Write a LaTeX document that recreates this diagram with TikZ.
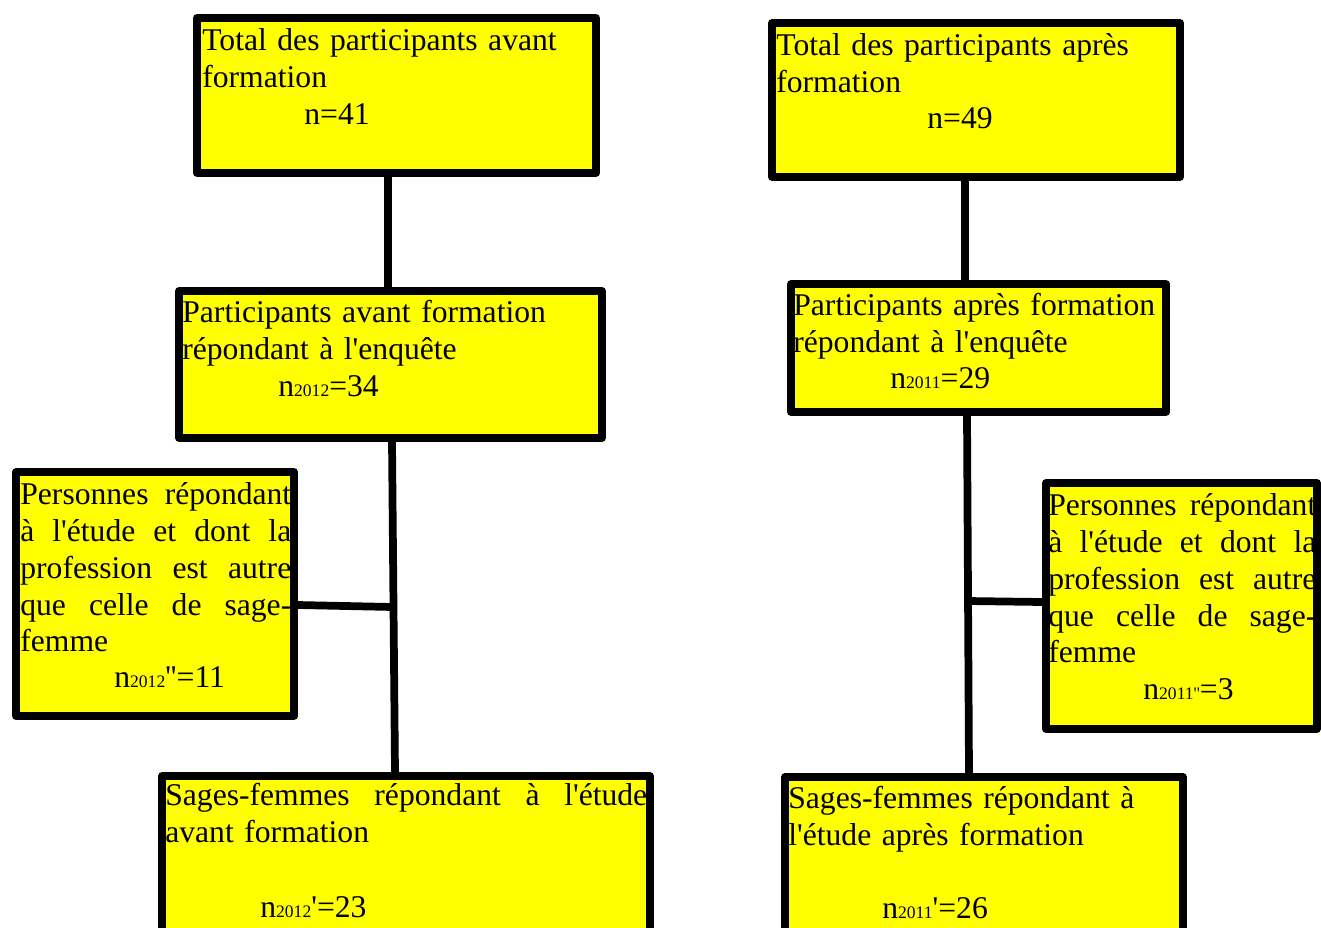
\documentclass[tikz,border=0pt]{standalone}
\usepackage{fontspec}
\setmainfont{Liberation Serif}[Ligatures=TeXOff]
\usetikzlibrary{shapes,arrows}
\definecolor{jaune}{RGB}{255,255,0}
\tikzstyle{block} = [draw, rectangle, fill=jaune, line width=4.4pt, line join=round, inner sep=0pt]
\tikzstyle{line} = [draw, line width=4.4pt]
\tikzstyle{boxtext} = [inner sep=0pt, anchor=north west, align=left, font=\fontsize{18}{21}\selectfont]
\tikzstyle{boxcount} = [inner sep=0pt, anchor=base west, font=\fontsize{18}{21}\selectfont]
\newcommand{\yr}[1]{{\fontsize{10}{10}\selectfont #1}}

\begin{document}
\begin{tikzpicture}[x=0.02cm, y=-0.02cm]
    \useasboundingbox (0,0) rectangle (1321,927);

    % Place nodes
    \node [block, minimum width=7.98cm, minimum height=3.1cm] (total-avant) at (396.5,95.5) {};
    \node [block, minimum width=8.46cm, minimum height=2.94cm] (repondants-avant) at (390.5,364.5) {};
    \node [block, minimum width=5.56cm, minimum height=4.88cm] (autres-avant) at (155,594) {};
    \node [block, minimum width=9.76cm, minimum height=3.68cm] (sf-avant) at (406,868) {};
    \node [block, minimum width=8.16cm, minimum height=3.08cm] (total-apres) at (976,100) {};
    \node [block, minimum width=7.5cm, minimum height=2.56cm] (repondants-apres) at (978.5,348) {};
    \node [block, minimum width=5.42cm, minimum height=4.92cm] (autres-apres) at (1181.5,606) {};
    \node [block, minimum width=7.96cm, minimum height=3.66cm] (sf-apres) at (984,868.5) {};

    % Texts
    \node [boxtext, text width=7.8cm] (total-avant-txt) at (202,24.2) {\strut Total des participants avant\\formation};
    \node [boxcount] (total-avant-n) at (304,124) {n=41};
    \node [boxtext, text width=8.2cm] (repondants-avant-txt) at (182,296.2) {\strut Participants avant formation\\répondant à l'enquête};
    \node [boxcount] (repondants-avant-n) at (278,396) {n\yr{2012}=34};
    \node [boxtext, text width=5.42cm] (autres-avant-txt) at (20,478.2) {\strut Personnes\hfill répondant\\à\hfill l'étude\hfill et\hfill dont\hfill la\\profession\hfill est\hfill autre\\que\hfill celle\hfill de\hfill sage-\\femme};
    \node [boxcount] (autres-avant-n) at (114,687) {n\yr{2012}''=11};
    \node [boxtext, text width=9.64cm] (sf-avant-txt) at (165,779.2) {\strut Sages-femmes\hfill répondant\hfill à\hfill l'étude\\avant formation};
    \node [boxcount] (sf-avant-n) at (260,917) {n\yr{2012}'=23};
    \node [boxtext, text width=7.9cm] (total-apres-txt) at (776,29.2) {\strut Total des participants après\\formation};
    \node [boxcount] (total-apres-n) at (927,128) {n=49};
    \node [boxtext, text width=7.4cm] (repondants-apres-txt) at (793,289.2) {\strut Participants après formation\\répondant à l'enquête};
    \node [boxcount] (repondants-apres-n) at (890,388) {n\yr{2011}=29};
    \node [boxtext, text width=5.36cm] (autres-apres-txt) at (1048,489.2) {\strut Personnes\hfill répondant\\à\hfill l'étude\hfill et\hfill dont\hfill la\\profession\hfill est\hfill autre\\que\hfill celle\hfill de\hfill sage-\\femme};
    \node [boxcount] (autres-apres-n) at (1143,699) {n\yr{2011''}=3};
    \node [boxtext, text width=7.8cm] (sf-apres-txt) at (788,782.2) {\strut Sages-femmes répondant à\\l'étude après formation};
    \node [boxcount] (sf-apres-n) at (882,918) {n\yr{2011}'=26};

    \coordinate (jonction-avant) at (393,607);
    \coordinate (jonction-apres) at (968,601);

    % Draw edges
    \path [line] (total-avant.south -| 388,0) -- (repondants-avant.north -| 388,0);
    \path [line] (repondants-avant.south -| 392,0) -- (sf-avant.north -| 395,0);
    \path [line] (autres-avant.east |- 0,605) -- (jonction-avant);
    \path [line] (total-apres.south -| 965,0) -- (repondants-apres.north -| 965,0);
    \path [line] (repondants-apres.south -| 967,0) -- (sf-apres.north -| 969,0);
    \path [line] (jonction-apres) -- (autres-apres.west |- 0,602);
\end{tikzpicture}
\end{document}
